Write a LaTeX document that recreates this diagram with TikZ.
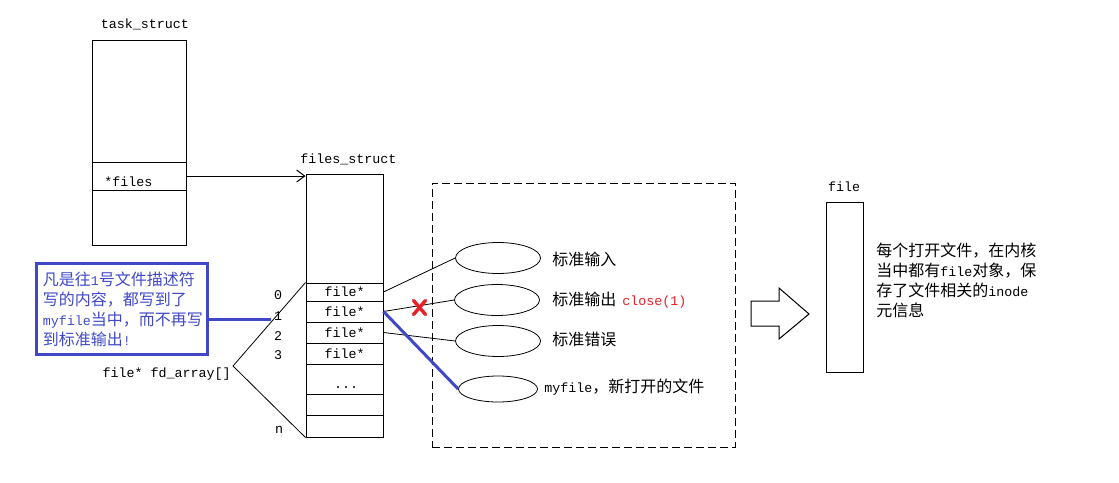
\documentclass[tikz,border=0pt]{standalone}
\usepackage{fontspec}
\setmainfont{Liberation Mono}
\newfontfamily\cjk{Noto Sans CJK SC}
\usetikzlibrary{arrows.meta,shapes.geometric,calc}
\definecolor{noteblue}{RGB}{64,72,200}
\definecolor{xred}{RGB}{232,32,40}
\newcommand\zh[1]{{\cjk\fontsize{12pt}{14pt}\selectfont #1}}
\begin{document}
\begin{tikzpicture}[x=0.75pt,y=-0.75pt,
  tcell/.style={draw,line width=0.75pt,inner sep=0pt,minimum width=70.5pt},
  fcell/.style={draw,line width=0.75pt,inner sep=0pt,minimum width=57.75pt,font=\fontsize{10pt}{12pt}\selectfont},
  lbl/.style={inner sep=0pt,font=\fontsize{10pt}{12pt}\selectfont},
  oval/.style={draw,ellipse,line width=0.6pt,inner sep=0pt,minimum width=63.75pt,minimum height=23.25pt},
  thinline/.style={line width=0.6pt},
  blueline/.style={draw=noteblue,line width=2.25pt},
  redx/.style={draw=xred,line width=2.6pt,line cap=round}]
\useasboundingbox (0,0) rectangle (1119,482);
% task_struct
\node[lbl,anchor=base] (tsName) at (145,28) {task\_struct};
\node[tcell,minimum height=91.5pt] (tsTop) at (139,101) {};
\node[tcell,minimum height=21pt] (tsFiles) at (139,176) {};
\node[tcell,minimum height=41.25pt] (tsBot) at (139,217.5) {};
\node[lbl,anchor=base west] (tsFilesL) at (104,186) {*files};
% files_struct
\node[lbl,anchor=base west] (fsName) at (300,163) {files\_struct};
\node[fcell,minimum height=81.75pt] (fsTop) at (344.5,228.5) {};
\node[fcell,minimum height=13.5pt] (r0) at (344.5,292) {file*};
\node[fcell,minimum height=15.75pt] (r1) at (344.5,311.5) {file*};
\node[fcell,minimum height=15.75pt] (r2) at (344.5,332.5) {file*};
\node[fcell,minimum height=15.75pt] (r3) at (344.5,353.5) {file*};
\node[fcell,minimum height=22.5pt] (rdots) at (344.5,379) {};
\node[lbl,anchor=base] (dots) at (346,388) {...};
\node[fcell,minimum height=15.75pt] (r5) at (344.5,404.5) {};
\node[fcell,minimum height=16.5pt] (rn) at (344.5,426) {};
\draw[line width=0.75pt,-{Straight Barb[length=6pt,width=9pt]}] (tsFiles.east) -- (tsFiles.east -| fsTop.west);
% indices
\node[lbl,anchor=base] (i0) at (278,299) {0};
\node[lbl,anchor=base] (i1) at (278,320) {1};
\node[lbl,anchor=base] (i2) at (278,340) {2};
\node[lbl,anchor=base] (i3) at (278,359) {3};
\node[lbl,anchor=base] (in) at (279,433) {n};
% fd_array
\node[lbl,anchor=base east] (fdL) at (231,377) {file* fd\_array[]};
\coordinate (apex) at (233,366);
\draw[thinline] (apex) -- (r0.north west);
\draw[thinline] (apex) -- (rn.south west);
% note
\node[draw=noteblue,line width=2.25pt,inner sep=0pt,minimum width=128.25pt,minimum height=68.25pt] (note) at (121.5,308.5) {};
\node[lbl,anchor=base west,text=noteblue] (n1) at (42.5,285) {\zh{凡是往}1\zh{号文件描述符}};
\node[lbl,anchor=base west,text=noteblue] (n2) at (42.5,305) {\zh{写的内容，都写到了}};
\node[lbl,anchor=base west,text=noteblue] (n3) at (42.5,325) {myfile\zh{当中，而不再写}};
\node[lbl,anchor=base west,text=noteblue] (n4) at (42.5,345) {\zh{到标准输出}!};
\coordinate (c1) at (271,319);
\draw[blueline] (note.east |- c1) -- (c1);
% dashed region
\node[draw,dash pattern=on 6pt off 3pt,line width=0.75pt,inner sep=0pt,minimum width=227.25pt,minimum height=198pt] (region) at (583.5,315) {};
\node[oval] (e1) at (498,258) {};
\node[oval] (e2) at (497,300) {};
\node[oval] (e3) at (498,341) {};
\node[oval,minimum width=59.25pt,minimum height=19.5pt] (e4) at (498,389) {};
\node[lbl,anchor=base west] (l1) at (552,265) {\zh{标准输入}};
\node[lbl,anchor=base west] (l2) at (552,305) {\zh{标准输出}};
\node[lbl,anchor=base west,text=xred] (l2c) at (622,305) {close(1)};
\node[lbl,anchor=base west] (l3) at (552,345) {\zh{标准错误}};
\node[lbl,anchor=base west] (l4) at (544,392) {myfile\zh{，新打开的文件}};
\draw[thinline] (r0.east) -- (e1.west);
\draw[thinline] (r1.east) -- (e2.west);
\draw[thinline] (r2.east) -- (e3.west);
\draw[blueline] (r1.east) -- (e4.west);
\coordinate (xm) at (419.5,307.5);
\draw[redx] ($(xm)+(-6,-7)$) -- ($(xm)+(6,7)$);
\draw[redx] ($(xm)+(6,-7)$) -- ($(xm)+(-6,7)$);
% block arrow
\draw[line width=0.75pt] (751,301) -- (779,301) -- (779,288) -- (809,314) -- (779,339) -- (779,326) -- (751,326) -- cycle;
% file
\node[lbl,anchor=base] (fileName) at (844,191) {file};
\node[draw,line width=0.75pt,inner sep=0pt,minimum width=27.75pt,minimum height=127.5pt] (fileBox) at (844.5,287) {};
\node[lbl,anchor=base west] (t1) at (876,256) {\zh{每个打开文件，在内核}};
\node[lbl,anchor=base west] (t2) at (876,276) {\zh{当中都有}file\zh{对象，保}};
\node[lbl,anchor=base west] (t3) at (876,296) {\zh{存了文件相关的}inode};
\node[lbl,anchor=base west] (t4) at (876,316) {\zh{元信息}};
\end{tikzpicture}
\end{document}
